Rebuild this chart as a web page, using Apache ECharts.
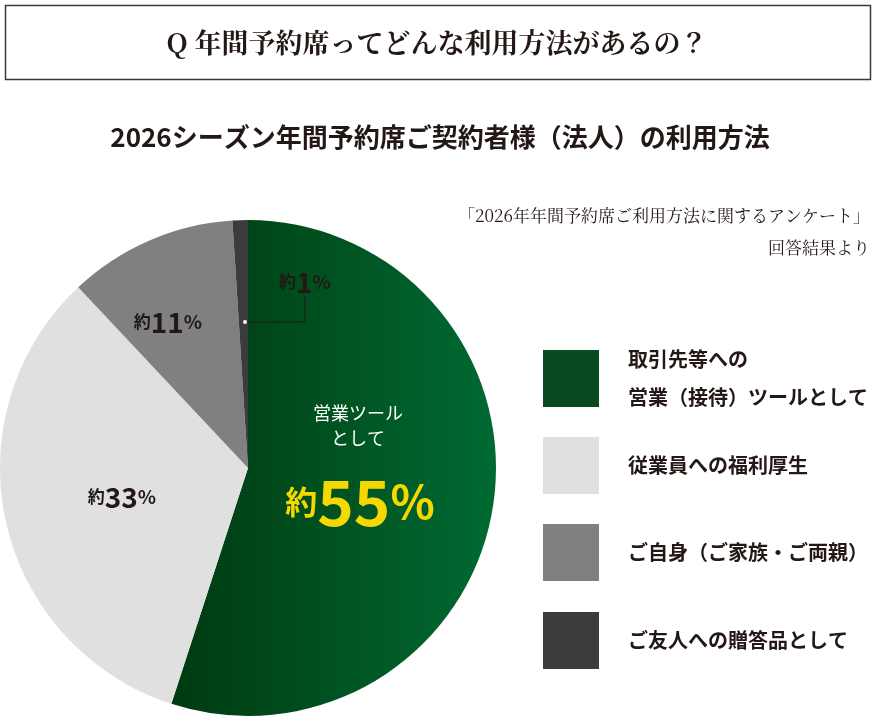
<!DOCTYPE html>
<html><head><meta charset="utf-8">
<script src="https://cdn.jsdelivr.net/npm/echarts@6/dist/echarts.min.js"></script>
<style>html,body{margin:0;padding:0;background:#fff}#c{width:877px;height:717px}</style>
</head><body><div id="c"></div>
<script>
const categories = ['取引先等への\n営業（接待）ツールとして','従業員への福利厚生','ご自身（ご家族・ご両親）','ご友人への贈答品として'];
const values = [55, 33, 11, 1];
const colors = [null, '#e0e0e0', '#808080', '#3c3c3c'];
const chart = echarts.init(document.getElementById('c'));
const sans = '"Noto Sans CJK JP", sans-serif';
const serif = '"Noto Serif CJK JP", "DejaVu Serif", serif';
const green = new echarts.graphic.LinearGradient(0,0,1,0,[{offset:0,color:'#003a10'},{offset:1,color:'#006a32'}]);
const Z = 100;
const lab = (x,y,v)=>({type:'text',z:Z,x:x,y:y,style:{rich:{a:{font:'bold 17px '+sans,fill:'#231815'},b:{font:'bold 28px '+sans,fill:'#231815'},c:{font:'bold 19px '+sans,fill:'#231815'}},text:'{a|約}{b|'+v+'}{c|%}',align:'center',verticalAlign:'middle'}});
const graphic = [
  {type:'rect',shape:{x:5.5,y:5.5,width:865,height:74},style:{fill:'#fff',stroke:'#3a3a3a',lineWidth:1.5}},
  {type:'text',x:437,y:43,style:{text:'Q 年間予約席ってどんな利用方法があるの？',font:'bold 27px '+serif,fill:'#231815',align:'center',verticalAlign:'middle'}},
  {type:'text',x:440,y:137,style:{text:'2026シーズン年間予約席ご契約者様（法人）の利用方法',font:'bold 26px '+sans,fill:'#231815',align:'center',verticalAlign:'middle'}},
  {type:'text',x:870,y:216,style:{text:'「2026年年間予約席ご利用方法に関するアンケート」',font:'17px '+serif,fill:'#231815',align:'right',verticalAlign:'middle'}},
  {type:'text',x:870,y:248,style:{text:'回答結果より',font:'17px '+serif,fill:'#231815',align:'right',verticalAlign:'middle'}},
  {type:'polyline',z:Z,shape:{points:[[245,322],[305,322],[305,296]]},style:{stroke:'#231815',lineWidth:1,fill:null}},
  {type:'circle',z:Z,shape:{cx:245,cy:322,r:2},style:{fill:'#fff'}},
  lab(305,282,values[3]), lab(168,322,values[2]), lab(122,497,values[1]),
  {type:'text',z:Z,x:358,y:426,style:{text:'営業ツール\nとして',font:'18px '+sans,lineHeight:25,fill:'#fff',align:'center',verticalAlign:'middle'}},
  {type:'text',z:Z,x:360,y:502,style:{rich:{a:{font:'bold 32px '+sans,fill:'#f5d800'},b:{font:'bold 62px '+sans,fill:'#f5d800'},c:{font:'bold 46px '+sans,fill:'#f5d800'}},text:'{a|約}{b|'+values[0]+'}{c|%}',align:'center',verticalAlign:'middle'}}
];
const legTops=[350,437,524,612];
categories.forEach((c,i)=>{
  graphic.push({type:'rect',shape:{x:543,y:legTops[i],width:56,height:57},style:{fill:i===0?'#0a4a22':colors[i]}});
  graphic.push({type:'text',x:628,y:legTops[i]+28,style:{text:c,font:'bold 20px '+sans,lineHeight:38,fill:'#231815',verticalAlign:'middle'}});
});
chart.setOption({
  animation:false,
  graphic:graphic,
  series:[{type:'pie',z:2,center:[248,468],radius:[0,248],startAngle:90,clockwise:true,label:{show:false},labelLine:{show:false},
    itemStyle:{borderWidth:0},
    data:values.map((v,i)=>({value:v,name:categories[i],itemStyle:{color:i===0?green:colors[i]}}))}]
});
</script></body></html>
